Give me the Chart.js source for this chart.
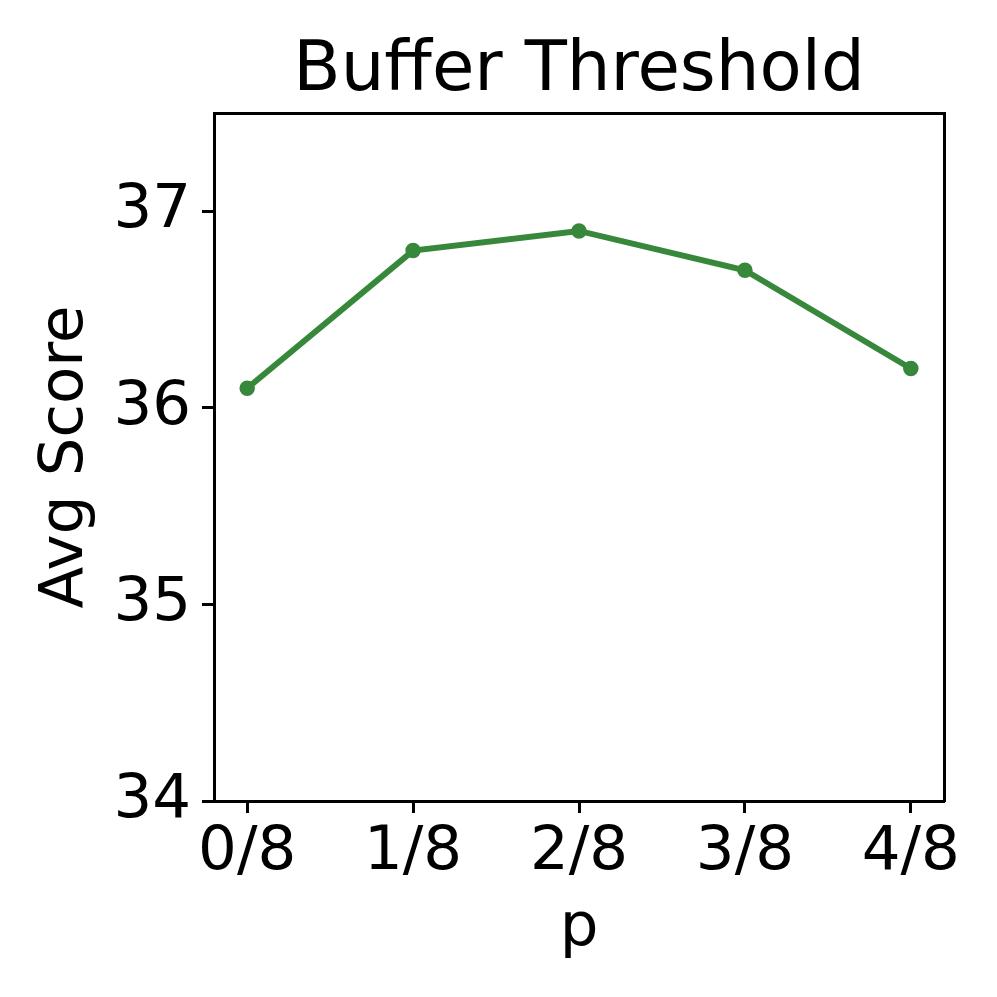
<!DOCTYPE html>
<html>
<head>
<meta charset="utf-8">
<script src="https://cdn.jsdelivr.net/npm/chart.js@4.4.1/dist/chart.umd.min.js"></script>
<style>
  html, body { margin: 0; padding: 0; background: #ffffff; }
  #wrap { width: 997px; height: 997px; }
</style>
</head>
<body>
<div id="wrap"><canvas id="c" width="997" height="997"></canvas></div>
<script>
const categories = ["0/8", "1/8", "2/8", "3/8", "4/8"];
const xPositions = [0, 1, 2, 3, 4];
const avgScore = [36.1, 36.8, 36.9, 36.7, 36.2];
const yTicks = [34, 35, 36, 37];
const titleText = "Buffer Threshold";
const xLabel = "p";
const yLabel = "Avg Score";

const FONT = "'DejaVu Sans', 'Liberation Sans', sans-serif";
const GREEN = "rgb(56,136,60)";

const points = xPositions.map((x, i) => ({ x: x, y: avgScore[i] }));

new Chart(document.getElementById('c'), {
  type: 'line',
  data: {
    datasets: [{
      data: points,
      borderColor: GREEN,
      backgroundColor: GREEN,
      borderWidth: 6,
      pointRadius: 7,
      pointBackgroundColor: GREEN,
      pointBorderColor: GREEN,
      pointBorderWidth: 1.5,
      tension: 0,
      fill: false
    }]
  },
  options: {
    responsive: false,
    animation: false,
    devicePixelRatio: 1,
    layout: { padding: { left: 0, right: 53, top: 0, bottom: 0 } },
    plugins: { legend: { display: false }, tooltip: { enabled: false }, title: { display: false } },
    scales: {
      x: {
        type: 'linear',
        position: 'bottom',
        min: -0.2,
        max: 4.2,
        afterBuildTicks: s => { s.ticks = xPositions.map(v => ({ value: v })); },
        afterFit: s => { s.height = 196; },
        ticks: {
          color: '#000',
          font: { family: FONT, size: 61 },
          padding: 4,
          maxRotation: 0,
          autoSkip: false,
          callback: (v) => { const i = xPositions.indexOf(v); return i >= 0 ? categories[i] : ''; }
        },
        grid: { drawOnChartArea: false, drawTicks: true, tickLength: 12, tickWidth: 3, tickColor: '#000' },
        border: { display: true, color: '#000', width: 3 },
        title: { display: true, text: xLabel, color: '#000', font: { family: FONT, size: 61, lineHeight: 1.2 }, padding: { top: 0, bottom: 31 } }
      },
      x2: {
        type: 'linear',
        position: 'top',
        min: -0.2,
        max: 4.2,
        afterFit: s => { s.height = 113; },
        ticks: { display: false },
        grid: { drawOnChartArea: false, drawTicks: false },
        border: { display: true, color: '#000', width: 3 },
        title: { display: true, text: titleText, color: '#000', font: { family: FONT, size: 69, lineHeight: 1.2 }, padding: { top: 31, bottom: 0 } }
      },
      y: {
        type: 'linear',
        position: 'left',
        min: 34,
        max: 37.5,
        afterBuildTicks: s => { s.ticks = yTicks.map(v => ({ value: v })); },
        afterFit: s => { s.width = 214; },
        ticks: {
          color: '#000',
          font: { family: FONT, size: 61 },
          padding: 11,
          callback: v => String(v)
        },
        grid: { drawOnChartArea: false, drawTicks: true, tickLength: 12, tickWidth: 3, tickColor: '#000' },
        border: { display: true, color: '#000', width: 3 },
        title: { display: true, text: yLabel, color: '#000', font: { family: FONT, size: 61, lineHeight: 1.2 }, padding: { top: 30, bottom: 0 } }
      },
      y2: {
        type: 'linear',
        position: 'right',
        min: 34,
        max: 37.5,
        afterFit: s => { s.width = 0; },
        ticks: { display: false },
        grid: { drawOnChartArea: false, drawTicks: false },
        border: { display: true, color: '#000', width: 3 }
      }
    }
  }
});
</script>
</body>
</html>
